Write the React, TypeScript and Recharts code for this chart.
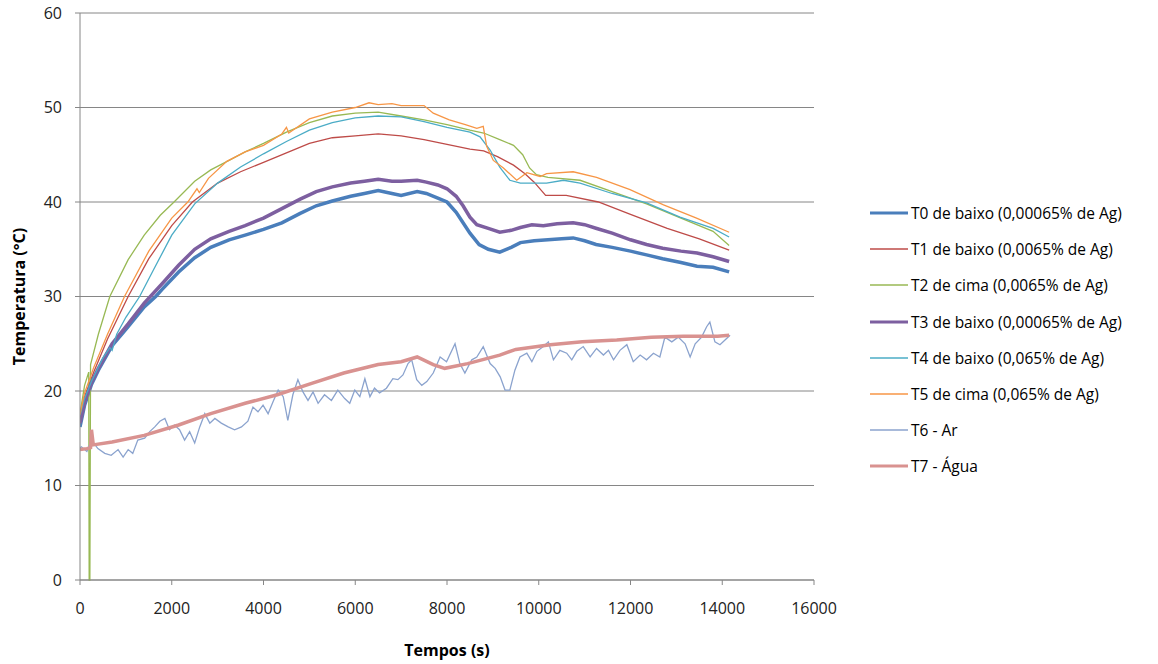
import React from 'react';
import { LineChart, Line, XAxis, YAxis, CartesianGrid, Legend, Label } from 'recharts';

type Pt = [number, number];

const X_TICKS = [0, 2000, 4000, 6000, 8000, 10000, 12000, 14000, 16000];
const Y_TICKS = [0, 10, 20, 30, 40, 50, 60];

const T0_BAIXO: Pt[] = [[0,16.2],[100,18.5],[250,20.7],[400,22.2],[700,24.8],[1050,26.8],[1400,28.9],[1650,30.0],[1800,30.8],[2150,32.6],[2500,34.1],[2850,35.2],[3250,36.0],[3600,36.5],[4000,37.1],[4400,37.8],[4800,38.8],[5150,39.6],[5500,40.1],[5900,40.6],[6200,40.9],[6500,41.2],[6800,40.9],[7000,40.7],[7350,41.1],[7550,40.9],[7800,40.4],[8000,40.0],[8200,38.9],[8350,37.8],[8500,36.7],[8700,35.5],[8900,35.0],[9150,34.7],[9400,35.2],[9600,35.7],[9900,35.9],[10200,36.0],[10500,36.1],[10750,36.2],[11000,35.9],[11250,35.5],[11600,35.2],[12000,34.8],[12350,34.4],[12700,34.0],[13100,33.6],[13450,33.2],[13800,33.1],[14150,32.6]];
const T1_BAIXO: Pt[] = [[0,17.3],[100,19.4],[300,22.0],[600,25.5],[1050,30.0],[1500,34.0],[2000,37.5],[2450,40.0],[3000,42.0],[3500,43.2],[4000,44.2],[4500,45.2],[5000,46.2],[5500,46.8],[6000,47.0],[6500,47.2],[7000,47.0],[7500,46.6],[8000,46.1],[8500,45.6],[8800,45.4],[9100,44.8],[9450,43.9],[9700,43.0],[9900,42.1],[10150,40.7],[10600,40.7],[11300,40.0],[12000,38.7],[12800,37.2],[13500,36.1],[14150,34.9]];
const T2_CIMA: Pt[] = [[0,17.6],[100,20.6],[190,22.0],[200,0],[215,0],[230,22.8],[400,26.0],[650,30.0],[1050,33.9],[1400,36.5],[1750,38.6],[2050,40.0],[2500,42.2],[2850,43.4],[3250,44.4],[3600,45.3],[4000,46.2],[4500,47.4],[5000,48.4],[5500,49.1],[6000,49.4],[6500,49.5],[7000,49.1],[7500,48.7],[8000,48.2],[8500,47.6],[8800,47.3],[9150,46.6],[9450,46.0],[9650,45.0],[9800,43.6],[9950,42.9],[10200,42.6],[10900,42.3],[11600,41.1],[12350,39.8],[13100,38.3],[13800,36.9],[14150,35.4]];
const T3_BAIXO: Pt[] = [[0,16.6],[100,18.8],[250,20.9],[400,22.4],[700,25.0],[1050,27.1],[1400,29.3],[1800,31.4],[2150,33.3],[2500,35.0],[2850,36.1],[3250,36.9],[3600,37.5],[4000,38.3],[4400,39.3],[4800,40.3],[5150,41.1],[5500,41.6],[5900,42.0],[6200,42.2],[6500,42.4],[6800,42.2],[7000,42.2],[7350,42.3],[7550,42.1],[7800,41.8],[8000,41.4],[8200,40.6],[8350,39.6],[8500,38.4],[8650,37.6],[8900,37.2],[9150,36.8],[9400,37.0],[9600,37.3],[9850,37.6],[10100,37.5],[10400,37.7],[10750,37.8],[11000,37.6],[11264,37.2],[11600,36.7],[12000,36.0],[12350,35.5],[12700,35.1],[13100,34.8],[13450,34.6],[13800,34.2],[14150,33.7]];
const T4_BAIXO: Pt[] = [[0,17.4],[100,19.2],[250,21.0],[500,23.5],[650,24.6],[700,24.3],[800,26.0],[1000,27.8],[1300,30.0],[1600,32.8],[2000,36.5],[2500,39.8],[3000,42.0],[3500,43.7],[4000,45.1],[4500,46.4],[5000,47.6],[5500,48.4],[6000,48.9],[6500,49.1],[7000,49.0],[7500,48.5],[8000,47.9],[8500,47.4],[8720,46.9],[8940,45.5],[9150,43.7],[9370,42.3],[9600,42.0],[10170,42.0],[10540,42.3],[10900,42.0],[11600,40.9],[12350,39.9],[13080,38.4],[13800,37.2],[14150,36.3]];
const T5_CIMA: Pt[] = [[0,17.5],[100,19.8],[300,22.5],[600,26.0],[970,30.0],[1500,34.8],[2000,38.3],[2350,40.0],[2550,41.4],[2600,41.0],[2800,42.5],[3200,44.3],[3600,45.3],[4000,46.0],[4400,47.2],[4500,47.9],[4550,47.3],[5000,48.8],[5500,49.5],[6000,50.0],[6300,50.5],[6500,50.3],[6800,50.4],[7000,50.2],[7500,50.2],[7700,49.4],[8050,48.7],[8400,48.2],[8650,47.8],[8790,48.0],[8865,45.9],[9010,44.4],[9230,43.6],[9520,42.3],[9740,43.1],[10030,42.7],[10170,43.0],[10750,43.2],[11260,42.6],[11990,41.3],[12720,39.7],[13440,38.3],[14150,36.8]];
const T6_AR: Pt[] = [[0,14.0],[30,14.1],[150,13.6],[250,14.8],[390,13.9],[540,13.4],[680,13.2],[830,13.8],[940,13.0],[1050,13.8],[1150,13.4],[1260,14.8],[1410,15.0],[1520,15.7],[1630,16.2],[1740,16.8],[1850,17.1],[1950,15.9],[2060,16.4],[2170,15.9],[2280,14.8],[2390,15.7],[2500,14.5],[2610,16.2],[2720,17.6],[2830,16.6],[2940,17.1],[3080,16.6],[3230,16.2],[3370,15.9],[3520,16.2],[3660,16.8],[3770,18.3],[3880,17.8],[3990,18.5],[4100,17.6],[4210,18.9],[4320,20.1],[4430,19.4],[4530,16.9],[4640,19.6],[4750,21.2],[4860,19.9],[4970,19.0],[5080,19.9],[5190,18.7],[5330,19.6],[5480,19.0],[5620,20.1],[5770,19.2],[5880,18.7],[5990,20.1],[6100,19.4],[6210,21.3],[6320,19.4],[6420,20.3],[6530,19.8],[6680,20.3],[6820,21.3],[6930,21.2],[7040,21.7],[7150,22.9],[7230,23.3],[7340,21.2],[7450,20.6],[7560,21.0],[7700,21.9],[7850,23.6],[7990,23.1],[8175,25.0],[8280,22.9],[8390,21.9],[8540,23.3],[8650,23.6],[8790,24.7],[8940,22.9],[9050,22.4],[9160,21.5],[9265,20.1],[9370,20.1],[9480,22.2],[9590,23.6],[9740,24.0],[9850,23.1],[9960,24.2],[10100,24.7],[10210,25.2],[10320,23.3],[10460,24.3],[10610,24.0],[10720,23.3],[10830,24.2],[10970,24.7],[11120,23.6],[11260,24.5],[11410,23.8],[11520,24.3],[11630,23.3],[11770,24.3],[11920,24.9],[12060,23.1],[12210,23.8],[12350,23.3],[12500,24.0],[12640,23.6],[12750,25.7],[12900,25.2],[13040,25.7],[13190,25.0],[13300,23.6],[13410,25.0],[13550,25.7],[13660,26.8],[13730,27.3],[13840,25.2],[13950,24.9],[14060,25.4],[14170,25.9]];
const T7_AGUA: Pt[] = [[0,13.8],[150,13.9],[230,14.0],[250,15.9],[290,14.3],[700,14.6],[1400,15.3],[2150,16.4],[2850,17.6],[3600,18.7],[4300,19.6],[5050,20.8],[5750,21.9],[6500,22.8],[7000,23.1],[7350,23.6],[7700,22.8],[7950,22.4],[8450,22.9],[9150,23.8],[9500,24.4],[10250,24.9],[10950,25.2],[11700,25.4],[12450,25.7],[13150,25.8],[13900,25.8],[14150,25.9]];

const NAMES = [
  'T0 de baixo (0,00065% de Ag)',
  'T1 de baixo (0,0065% de Ag)',
  'T2 de cima (0,0065% de Ag)',
  'T3 de baixo (0,00065% de Ag)',
  'T4 de baixo (0,065% de Ag)',
  'T5 de cima (0,065% de Ag)',
  'T6 - Ar',
  'T7 - Água',
];
const VALUES = [T0_BAIXO, T1_BAIXO, T2_CIMA, T3_BAIXO, T4_BAIXO, T5_CIMA, T6_AR, T7_AGUA];
const COLORS = ['#4A7EBB', '#BE4B48', '#98B954', '#7D5FA0', '#4BACC6', '#F79646', '#8BA3CE', '#D99290'];
const WIDTHS = [3.5, 1.3, 1.3, 3.5, 1.3, 1.3, 1.3, 3.5];

const FONT = "'Open Sans', sans-serif";
const GRID = '#868686';

const renderLegend = () => (
  <div style={{ fontFamily: FONT, fontSize: 15.5, color: '#000' }}>
    {NAMES.map((n, i) => (
      <div key={n} style={{ display: 'flex', alignItems: 'center', height: 36.2 }}>
        <svg width={40} height={10} style={{ flex: 'none' }}>
          <line x1={0} y1={5} x2={38} y2={5} stroke={COLORS[i]} strokeWidth={WIDTHS[i] > 2 ? 3 : 1.5} />
        </svg>
        <span style={{ marginLeft: 1, whiteSpace: 'nowrap' }}>{n}</span>
      </div>
    ))}
  </div>
);

export default function App() {
  return (
    <div style={{ position: 'absolute', left: 0, top: 0, width: 1158, height: 664, background: '#fff' }}>
      <LineChart width={1158} height={664} margin={{ top: 13, right: 56, bottom: 0, left: 0 }}>
        <CartesianGrid vertical={false} stroke={GRID} strokeWidth={1} />
        <XAxis
          type="number"
          dataKey="t"
          domain={[0, 16000]}
          ticks={X_TICKS}
          allowDataOverflow
          height={84}
          stroke={GRID}
          tickSize={5}
          tickMargin={18}
          tick={{ fill: '#222', fontFamily: FONT, fontSize: 16 }}
          tickLine={{ stroke: GRID }}
        >
          <Label value="Tempos (s)" position="insideBottom" offset={8} style={{ fontFamily: FONT, fontSize: 16, fontWeight: 'bold', fill: '#000' }} />
        </XAxis>
        <YAxis
          type="number"
          domain={[0, 60]}
          ticks={Y_TICKS}
          width={80}
          stroke={GRID}
          tickSize={5}
          tickMargin={13}
          tick={{ fill: '#222', fontFamily: FONT, fontSize: 16 }}
          tickLine={{ stroke: GRID }}
        >
          <Label value="Temperatura (°C)" angle={-90} position="insideLeft" offset={19} style={{ textAnchor: 'middle', fontFamily: FONT, fontSize: 16, fontWeight: 'bold', fill: '#000' }} />
        </YAxis>
        <Legend
          layout="vertical"
          align="right"
          verticalAlign="top"
          width={288}
          content={renderLegend}
          wrapperStyle={{ left: 870, top: 195, width: 288 }}
        />
        {VALUES.map((pts, i) => (
          <Line
            key={NAMES[i]}
            name={NAMES[i]}
            data={pts.map(([t, v]) => ({ t, v }))}
            dataKey="v"
            type="linear"
            stroke={COLORS[i]}
            strokeWidth={WIDTHS[i]}
            dot={false}
            activeDot={false}
            isAnimationActive={false}
          />
        ))}
      </LineChart>
    </div>
  );
}
